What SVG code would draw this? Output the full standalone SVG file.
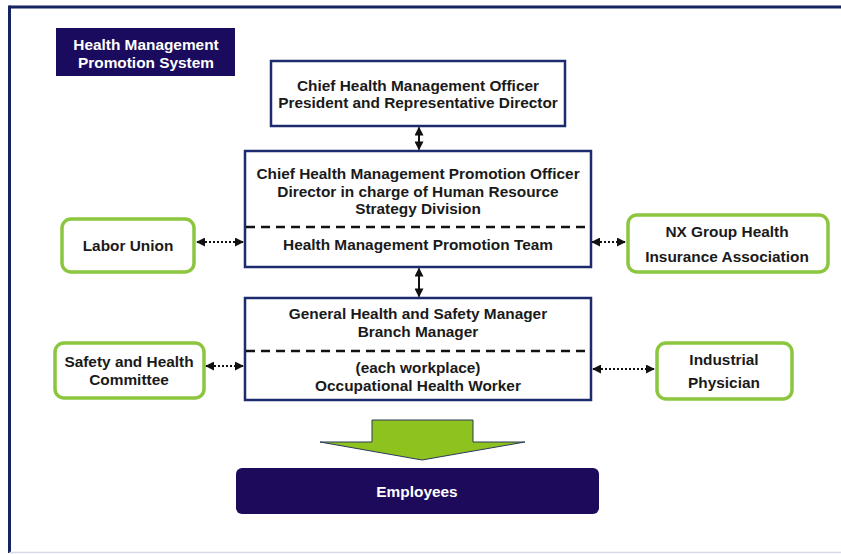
<svg xmlns="http://www.w3.org/2000/svg" width="841" height="554" viewBox="0 0 841 554">
<defs>
<style>
text{font-family:"Liberation Sans",Arial,sans-serif;font-weight:bold;text-anchor:middle;}
.t{font-size:15.4px;fill:#1a1a1a;}
.w{font-size:15.4px;fill:#ffffff;}
.box{fill:#ffffff;stroke:#1c2a6e;stroke-width:2.5;}
.g{fill:#ffffff;stroke:#8cc63f;stroke-width:3.5;}
.dash{stroke:#111;stroke-width:2.5;stroke-dasharray:9,6;fill:none;}
.sol{stroke:#111;stroke-width:2;fill:none;}
.dot{stroke:#111;stroke-width:2;stroke-dasharray:2,2;fill:none;}
</style>
<marker id="ah" viewBox="0 0 10 10" refX="9" refY="5" markerWidth="9" markerHeight="9" markerUnits="userSpaceOnUse" orient="auto-start-reverse">
<path d="M0,0 L10,5 L0,10 z" fill="#111"/>
</marker>
</defs>
<rect width="841" height="554" fill="#ffffff"/>
<g id="frame">
<line x1="9.5" y1="7" x2="841" y2="7" stroke="#15235f" stroke-width="3"/>
<line x1="9.5" y1="5.5" x2="9.5" y2="553" stroke="#15235f" stroke-width="3"/>
<line x1="9.5" y1="552.5" x2="841" y2="552.5" stroke="#d5dbe8" stroke-width="1.5"/>
</g>
<g id="title">
<rect x="56" y="28" width="179" height="48" fill="#1b0b5e"/>
<text class="w" x="146" y="50">Health Management</text>
<text class="w" x="146" y="68">Promotion System</text>
</g>
<g id="cho">
<rect class="box" x="271" y="61" width="294" height="65"/>
<text class="t" x="418" y="91">Chief Health Management Officer</text>
<text class="t" x="418" y="108">President and Representative Director</text>
</g>
<g id="chmpo">
<rect class="box" x="245" y="151" width="346" height="116"/>
<text class="t" x="418" y="179">Chief Health Management Promotion Officer</text>
<text class="t" x="418" y="197">Director in charge of Human Resource</text>
<text class="t" x="418" y="214">Strategy Division</text>
<line class="dash" x1="246" y1="227" x2="590" y2="227"/>
<text class="t" x="418" y="250">Health Management Promotion Team</text>
</g>
<g id="ghsm">
<rect class="box" x="245" y="298" width="346" height="102"/>
<text class="t" x="418" y="319">General Health and Safety Manager</text>
<text class="t" x="418" y="337">Branch Manager</text>
<line class="dash" x1="246" y1="351" x2="590" y2="351"/>
<text class="t" x="418" y="373">(each workplace)</text>
<text class="t" x="418" y="391">Occupational Health Worker</text>
</g>
<g id="labor">
<rect class="g" x="62" y="219" width="132" height="53" rx="9"/>
<text class="t" x="128" y="251">Labor Union</text>
</g>
<g id="safety">
<rect class="g" x="55" y="343" width="149" height="55" rx="9"/>
<text class="t" x="129" y="367">Safety and Health</text>
<text class="t" x="129" y="385">Committee</text>
</g>
<g id="nx">
<rect class="g" x="628" y="215" width="200" height="57" rx="9"/>
<text class="t" x="727" y="237">NX Group Health</text>
<text class="t" x="727" y="262">Insurance Association</text>
</g>
<g id="physician">
<rect class="g" x="657" y="343" width="135" height="56" rx="9"/>
<text class="t" x="724" y="365">Industrial</text>
<text class="t" x="724" y="388">Physician</text>
</g>
<g id="employees">
<rect x="236" y="468" width="363" height="46" rx="6" fill="#1e0a5a"/>
<text class="w" x="417" y="497">Employees</text>
</g>
<g id="connectors">
<line class="sol" x1="419" y1="127.5" x2="419" y2="149.5" marker-start="url(#ah)" marker-end="url(#ah)"/>
<line class="sol" x1="419" y1="268.5" x2="419" y2="296.5" marker-start="url(#ah)" marker-end="url(#ah)"/>
<line class="dot" x1="197" y1="242" x2="243" y2="242" marker-start="url(#ah)" marker-end="url(#ah)"/>
<line class="dot" x1="206" y1="366" x2="243" y2="366" marker-start="url(#ah)" marker-end="url(#ah)"/>
<line class="dot" x1="592" y1="242" x2="625" y2="242" marker-start="url(#ah)" marker-end="url(#ah)"/>
<line class="dot" x1="593" y1="369" x2="654" y2="369" marker-start="url(#ah)" marker-end="url(#ah)"/>
<path d="M372,420 L473,420 L473,442 L525,442 L422,460 L320,442 L372,442 Z" fill="#8dc21f" stroke="#2a3a5a" stroke-width="1"/>
</g>
</svg>
